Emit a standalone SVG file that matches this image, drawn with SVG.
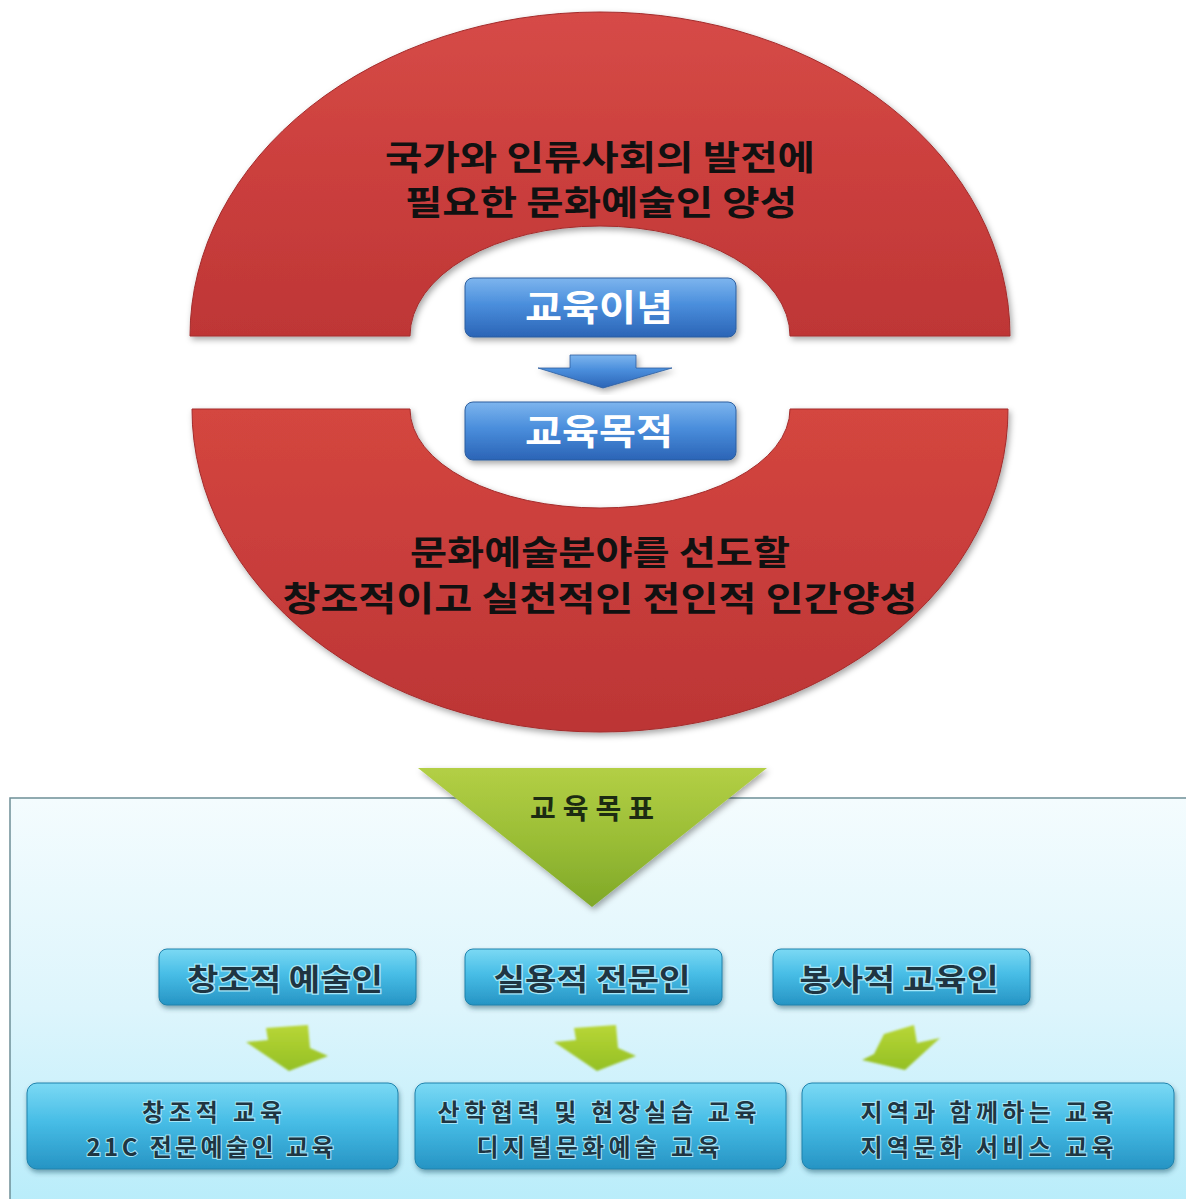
<svg xmlns="http://www.w3.org/2000/svg" width="1186" height="1199" viewBox="0 0 1186 1199">
<defs>
  <linearGradient id="redG" x1="0" y1="0" x2="0" y2="1">
    <stop offset="0" stop-color="#D64B47"/>
    <stop offset="0.5" stop-color="#CB3F3D"/>
    <stop offset="1" stop-color="#BE3636"/>
  </linearGradient>
  <linearGradient id="redG2" x1="0" y1="0" x2="0" y2="1">
    <stop offset="0" stop-color="#D4463F"/>
    <stop offset="0.5" stop-color="#C83D3B"/>
    <stop offset="1" stop-color="#BC3535"/>
  </linearGradient>
  <linearGradient id="blueG" x1="0" y1="0" x2="0" y2="1">
    <stop offset="0" stop-color="#7DB5EE"/>
    <stop offset="0.45" stop-color="#4A8EDC"/>
    <stop offset="1" stop-color="#2B64B6"/>
  </linearGradient>
  <linearGradient id="cyanG" x1="0" y1="0" x2="0" y2="1">
    <stop offset="0" stop-color="#7BD9F4"/>
    <stop offset="0.45" stop-color="#47BDE6"/>
    <stop offset="1" stop-color="#2694C4"/>
  </linearGradient>
  <linearGradient id="panelG" x1="0" y1="0" x2="0" y2="1">
    <stop offset="0" stop-color="#F4FCFE"/>
    <stop offset="0.5" stop-color="#DDF5FC"/>
    <stop offset="1" stop-color="#B6ECFA"/>
  </linearGradient>
  <linearGradient id="greenG" x1="0" y1="0" x2="0" y2="1">
    <stop offset="0" stop-color="#B3CF45"/>
    <stop offset="0.5" stop-color="#9BBE36"/>
    <stop offset="1" stop-color="#7FA828"/>
  </linearGradient>
  <linearGradient id="smallG" x1="0" y1="0" x2="0" y2="1">
    <stop offset="0" stop-color="#B8D637"/>
    <stop offset="1" stop-color="#94C024"/>
  </linearGradient>
  <filter id="sh" x="-10%" y="-10%" width="125%" height="130%">
    <feDropShadow dx="2" dy="3" stdDeviation="3" flood-color="#000" flood-opacity="0.35"/>
  </filter>
  <filter id="shs" x="-10%" y="-20%" width="125%" height="150%">
    <feDropShadow dx="1" dy="3" stdDeviation="2.5" flood-color="#0B3A50" flood-opacity="0.45"/>
  </filter>
  <filter id="soft" x="-20%" y="-20%" width="140%" height="140%">
    <feGaussianBlur stdDeviation="1.2"/>
  </filter>
  <style>
    .kr { font-family: "Noto Sans CJK KR", "Noto Sans", sans-serif; }
    .big { font-size: 34px; font-weight: 700; fill: #111; text-anchor: middle; }
    .btxt { font-size: 36px; font-weight: 700; fill: #FFFFFF; text-anchor: middle; }
    .c1 { font-size: 30px; font-weight: 700; fill: #1F3542; text-anchor: middle; stroke: #A6E6F8; stroke-width: 2.5px; paint-order: stroke; }
    .c2 { font-size: 24px; font-weight: 700; fill: #1F3542; text-anchor: middle; stroke: #A6E6F8; stroke-width: 2px; paint-order: stroke; }
    .blue { fill: url(#blueG); stroke: #2D5E9E; stroke-width: 1; }
    .cyan { fill: url(#cyanG); stroke: #1E82AC; stroke-width: 1; }
    .sg { fill: url(#smallG); }
  </style>
</defs>

<rect width="1186" height="1199" fill="#FFFFFF"/>

<g id="top-ring">
  <path d="M190,336 A410,324 0 0 1 1010,336 L790,336 A190,110 0 0 0 410,336 Z" fill="url(#redG)" stroke="#A32C2C" stroke-width="1" filter="url(#sh)"/>
  <text class="kr big" x="600" y="170" textLength="430" lengthAdjust="spacingAndGlyphs">국가와 인류사회의 발전에</text>
  <text class="kr big" x="601" y="215" textLength="392" lengthAdjust="spacingAndGlyphs">필요한 문화예술인 양성</text>
</g>

<g id="bottom-ring">
  <path d="M192,409 L410,409 A190,99 0 0 0 790,409 L1008,409 A408,323 0 0 1 192,409 Z" fill="url(#redG2)" stroke="#A32C2C" stroke-width="1" filter="url(#sh)"/>
  <text class="kr big" x="600" y="565" textLength="380" lengthAdjust="spacingAndGlyphs">문화예술분야를 선도할</text>
  <text class="kr big" x="600" y="611" textLength="635" lengthAdjust="spacingAndGlyphs">창조적이고 실천적인 전인적 인간양성</text>
</g>

<g id="node-inyeom">
  <rect class="blue" x="465" y="278" width="271" height="59" rx="8" filter="url(#sh)"/>
  <text class="kr btxt" x="599" y="321" textLength="148" lengthAdjust="spacingAndGlyphs">교육이념</text>
</g>

<g id="node-mokjeok">
  <rect class="blue" x="465" y="402" width="271" height="58" rx="8" filter="url(#sh)"/>
  <text class="kr btxt" x="599" y="445" textLength="148" lengthAdjust="spacingAndGlyphs">교육목적</text>
</g>

<g id="panel">
  <rect x="10" y="798" width="1200" height="420" fill="url(#panelG)" stroke="#6E8E96" stroke-width="1.5"/>
</g>

<g id="node-mokpyo">
  <polygon points="418,768 767,768 592,907" fill="url(#greenG)" filter="url(#sh)"/>
  <text class="kr" x="592" y="819" font-size="28" font-weight="700" fill="#1C2B12" text-anchor="middle" textLength="124">교육목표</text>
</g>

<g id="node-a1">
  <rect class="cyan" x="159" y="949" width="257" height="56" rx="8" filter="url(#shs)"/>
  <text class="kr c1" x="285" y="990" textLength="196" lengthAdjust="spacingAndGlyphs">창조적 예술인</text>
</g>
<g id="node-a2">
  <rect class="cyan" x="465" y="949" width="257" height="56" rx="8" filter="url(#shs)"/>
  <text class="kr c1" x="592" y="990" textLength="197" lengthAdjust="spacingAndGlyphs">실용적 전문인</text>
</g>
<g id="node-a3">
  <rect class="cyan" x="773" y="949" width="257" height="56" rx="8" filter="url(#shs)"/>
  <text class="kr c1" x="899" y="990" textLength="199" lengthAdjust="spacingAndGlyphs">봉사적 교육인</text>
</g>

<g id="node-b1">
  <rect class="cyan" x="27" y="1083" width="371" height="86" rx="10" filter="url(#shs)"/>
  <text class="kr c2" x="212" y="1121" textLength="140">창조적 교육</text>
  <text class="kr c2" x="210" y="1156" textLength="247">21C 전문예술인 교육</text>
</g>
<g id="node-b2">
  <rect class="cyan" x="415" y="1083" width="371" height="86" rx="10" filter="url(#shs)"/>
  <text class="kr c2" x="597" y="1121" textLength="319">산학협력 및 현장실습 교육</text>
  <text class="kr c2" x="598" y="1156" textLength="243">디지털문화예술 교육</text>
</g>
<g id="node-b3">
  <rect class="cyan" x="802" y="1083" width="372" height="86" rx="10" filter="url(#shs)"/>
  <text class="kr c2" x="987" y="1121" textLength="253">지역과 함께하는 교육</text>
  <text class="kr c2" x="987" y="1156" textLength="253">지역문화 서비스 교육</text>
</g>

<g id="connectors">
  <polygon points="570,355 636,355 636,368 672,368 603,388 538,368 570,368" fill="url(#blueG)" stroke="#2D5E9E" stroke-width="0.8" filter="url(#sh)"/>
  <polygon class="sg" filter="url(#soft)" points="266,1028 308,1025 310,1048 328,1056 289,1071 246,1042 268,1040"/>
  <polygon class="sg" filter="url(#soft)" points="574,1028 616,1025 618,1048 636,1056 597,1071 554,1042 576,1040"/>
  <polygon class="sg" filter="url(#soft)" points="884,1034 914,1025 917,1043 940,1038 905,1070 862,1060 874,1054"/>
</g>
</svg>
